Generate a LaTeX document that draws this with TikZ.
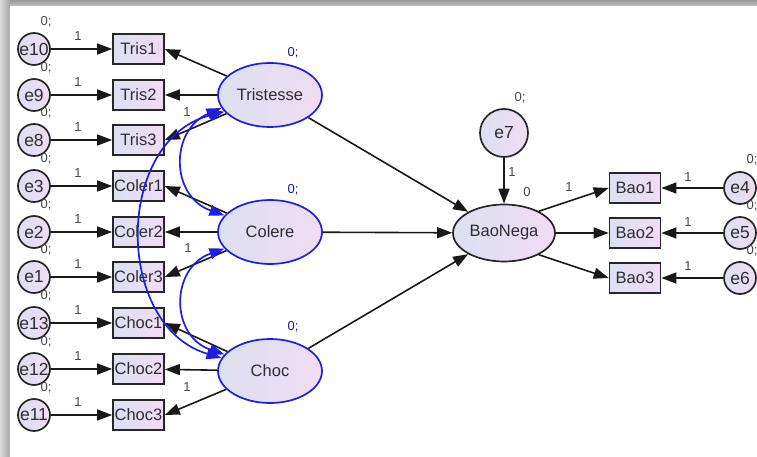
\documentclass[tikz,border=0pt]{standalone}
\usepackage{fontspec}
\setmainfont{Liberation Sans}
\usetikzlibrary{arrows.meta,shapes.geometric}
\definecolor{lavL}{RGB}{220,224,240}
\definecolor{lavR}{RGB}{240,220,244}
\definecolor{txt}{RGB}{45,45,50}
\definecolor{lbl}{RGB}{70,70,70}
\definecolor{amosblue}{RGB}{30,30,225}
\tikzset{
  base/.style={draw=black!85, line width=1.7pt, left color=lavL, right color=lavR, text=txt, font=\fontsize{16.5}{18}\selectfont, inner sep=0pt},
  ind/.style={base, rectangle, minimum width=51, minimum height=30},
  err/.style={base, circle, minimum size=32, font=\fontsize{17.5}{18}\selectfont},
  lat/.style={base, ellipse, draw=amosblue, line width=1.7pt, minimum width=104, minimum height=64},
  endo/.style={base, ellipse, minimum width=102, minimum height=57},
  arr/.style={-{Triangle[length=15pt,width=11pt]}, line width=1.6pt, black!90},
  cov/.style={{Triangle[length=15pt,width=11pt]}-{Triangle[length=15pt,width=11pt]}, line width=1.7pt, amosblue},
  lab/.style={text=lbl, font=\fontsize{13}{14}\selectfont, inner sep=0pt},
  blab/.style={lab, text=amosblue!80!black}
}
\begin{document}
\begin{tikzpicture}[x=1pt,y=-1pt]
\useasboundingbox (0,0) rectangle (757,457);
% frame shadow
\shade[top color=black!40, bottom color=black!25] (0,0) rectangle (757,6);
\shade[left color=black!15, right color=black!35] (0,0) rectangle (10,457);
\fill[white] (10,6) rectangle (757,457);

% indicators left
\foreach \n/\t/\y in {Tris1/Tris1/49, Tris2/Tris2/95, Tris3/Tris3/140,
  Coler1/Coler1/186, Coler2/Coler2/232, Coler3/Coler3/277,
  Choc1/Choc1/323, Choc2/Choc2/369, Choc3/Choc3/415}
  \node[ind] (\n) at (138.5,\y) {\t};
\foreach \n/\y in {e10/49, e9/95, e8/140, e3/186, e2/232, e1/277, e13/323, e12/369, e11/415}
  \node[err] (\n) at (34,\y) {\n};
\foreach \e/\r in {e10/Tris1, e9/Tris2, e8/Tris3, e3/Coler1, e2/Coler2, e1/Coler3, e13/Choc1, e12/Choc2, e11/Choc3}
  \draw[arr] (\e) -- (\r);
\foreach \y in {49, 95, 140, 186, 232, 277, 323, 369, 415}{
  \node[lab] (z\y) at (46,\y-27) {0;};
  \node[lab] (o\y) at (78,\y-13) {1};
}

% latent
\node[lat] (Tristesse) at (270,95) {Tristesse};
\node[lat] (Colere) at (270,232) {Colere};
\node[lat] (Choc) at (270,371) {Choc};
\node[blab] (zT) at (293,53) {0;};
\node[blab] (zC) at (293,190) {0;};
\node[blab] (zH) at (293,327) {0;};

\draw[arr] (Tristesse) -- (Tris1.east);
\draw[arr] (Tristesse) -- (Tris2);
\draw[arr] (Tristesse) -- (Tris3.east);
\draw[arr] (Colere) -- (Coler1.east);
\draw[arr] (Colere) -- (Coler2);
\draw[arr] (Colere) -- (Coler3.east);
\draw[arr] (Choc) -- (Choc1.east);
\draw[arr] (Choc) -- (Choc2);
\draw[arr] (Choc) -- (Choc3.east);
\node[lab] (oT) at (187,112) {1};
\node[lab] (oC) at (188,248) {1};
\node[lab] (oH) at (187,387) {1};

% covariances
\draw[cov] (Tristesse.195) .. controls (170,130) and (170,196) .. (Colere.160);
\draw[cov] (Colere.200) .. controls (170,268) and (170,336) .. (Choc.160);
\draw[cov] (Tristesse.200) .. controls (114,140) and (114,326) .. (Choc.165);

% endogenous
\node[endo] (BaoNega) at (504,233) {BaoNega};
\node[err, minimum size=48] (e7) at (504,133) {e7};
\node[lab] (ze7) at (520,98) {0;};
\node[lab] (oe7) at (512,172) {1};
\node[lab] (zB) at (527,192) {0};
\draw[arr] (e7) -- (BaoNega);
\draw[arr] (Tristesse) -- (BaoNega);
\draw[arr] (Colere) -- (BaoNega);
\draw[arr] (Choc) -- (BaoNega);

\node[ind] (Bao1) at (635,188) {Bao1};
\node[ind] (Bao2) at (635,233) {Bao2};
\node[ind] (Bao3) at (635,278) {Bao3};
\node[err] (e4) at (740,188) {e4};
\node[err] (e5) at (740,233) {e5};
\node[err] (e6) at (740,278) {e6};
\draw[arr] (BaoNega.32) -- (Bao1.west);
\draw[arr] (BaoNega) -- (Bao2);
\draw[arr] (BaoNega.-32) -- (Bao3.west);
\draw[arr] (e4) -- (Bao1);
\draw[arr] (e5) -- (Bao2);
\draw[arr] (e6) -- (Bao3);
\node[lab] (oB) at (569,187) {1};
\node[lab] (o4) at (688,177) {1};
\node[lab] (o5) at (688,222) {1};
\node[lab] (o6) at (688,266) {1};
\node[lab] (z4) at (752,160) {0;};
\node[lab] (z5) at (752,206) {0;};
\node[lab] (z6) at (752,251) {0;};
\end{tikzpicture}
\end{document}
